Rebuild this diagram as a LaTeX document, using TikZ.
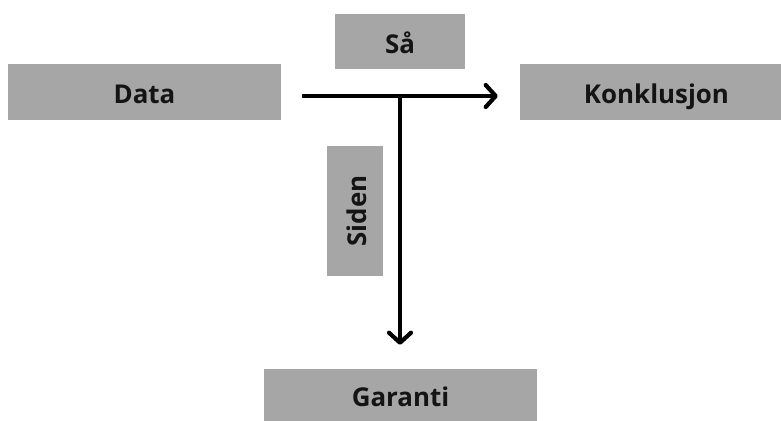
\documentclass[tikz,border=0pt]{standalone}
\usepackage{fontspec}
\setmainfont{Open Sans}
\usetikzlibrary{arrows.meta}
\definecolor{boxgray}{HTML}{A6A6A6}
\begin{document}
\begin{tikzpicture}[x=1bp,y=-1bp,
  box/.style={fill=boxgray,draw=none,inner sep=0pt,
    font=\fontsize{26}{30}\selectfont\bfseries,text=black!92,
    text height=23bp,text depth=0bp},
  link/.style={line width=4.2bp,-{Straight Barb[length=10bp,width=22bp,line cap=round,line join=round]}}]
  \useasboundingbox (0,0) rectangle (781,420);
  % statement boxes (the right one runs past the page edge)
  \node[box,minimum width=273bp,minimum height=56bp] (data) at (144.5,92) {Data};
  \node[box,minimum width=130bp,minimum height=55bp] (saa) at (400,41.5) {Så};
  \node[box,minimum width=273bp,minimum height=56bp] (konk) at (656.5,92) {Konklusjon};
  \node[box,minimum width=130bp,minimum height=56bp,rotate=90] (siden) at (355,211) {Siden};
  \node[box,minimum width=273bp,minimum height=52bp] (garanti) at (400.5,395) {Garanti};
  % reasoning arrows
  \draw[link,shorten <=21bp,shorten >=22bp] ([yshift=-4bp]data.east) -- ([yshift=-4bp]konk.west);
  \coordinate (fork) at (400,96);
  \draw[link,shorten >=24bp] (fork) -- (fork |- garanti.north);
\end{tikzpicture}
\end{document}
